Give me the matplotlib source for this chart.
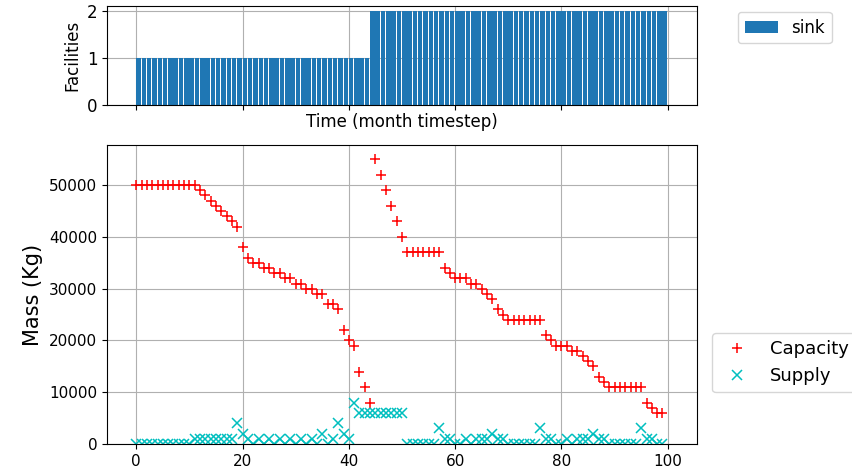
import matplotlib
matplotlib.use("Agg")
import matplotlib.pyplot as plt
import numpy as np

time = np.arange(100)

facilities = [1] * 44 + [2] * 56

capacity = ([50000] * 12
            + [49000, 48000, 47000, 46000, 45000, 44000, 43000, 42000]
            + [38000, 36000]
            + [35000, 35000, 34000, 34000, 33000, 33000, 32000, 32000,
               31000, 31000, 30000, 30000, 29000, 29000]
            + [27000, 27000, 26000, 22000, 20000, 19000, 14000, 11000, 8000]
            + [55000, 52000, 49000, 46000, 43000, 40000]
            + [37000] * 7
            + [34000, 33000, 32000, 32000, 32000, 31000, 31000, 30000,
               29000, 28000, 26000, 25000]
            + [24000] * 7
            + [21000, 20000, 19000, 19000, 19000, 18000, 18000, 17000,
               16000, 15000, 13000, 12000]
            + [11000] * 7
            + [8000, 7000, 6000, 6000])

supply = ([0] * 11
          + [1000] * 8
          + [4000, 2000]
          + [1000, 0] * 7
          + [2000, 0, 1000, 4000, 2000, 1000, 8000]
          + [6000] * 9
          + [0] * 6
          + [3000, 1000, 1000, 0, 0, 1000, 0, 1000, 1000, 1000, 2000, 1000, 1000]
          + [0] * 6
          + [3000, 1000, 1000, 0, 0, 1000, 0, 1000, 1000, 1000, 2000, 1000, 1000]
          + [0] * 6
          + [3000, 1000, 1000, 0, 0])

fig = plt.figure(figsize=(8.52, 4.72), dpi=100)
ax1 = fig.add_axes([0.1256, 0.7775, 0.6925, 0.2097])
ax2 = fig.add_axes([0.1256, 0.0593, 0.6925, 0.6335])

# top: number of facilities
ax1.bar(time, facilities, width=0.85, align='edge', color='#1f77b4', label='sink', zorder=2)
ax1.set_xlim(-5.5, 105.5)
ax1.set_ylim(0, 2.1)
ax1.set_yticks([0, 1, 2])
ax1.set_xticks([0, 20, 40, 60, 80, 100])
ax1.tick_params(labelbottom=False, labelsize=12)
ax1.set_xlabel('Time (month timestep)', fontsize=12, labelpad=2)
ax1.set_ylabel('Facilities', fontsize=12)
ax1.grid(True, zorder=0)
ax1.set_axisbelow(True)
ax1.legend(loc='upper left', bbox_to_anchor=(738 / 852, 1 - 12 / 472),
           bbox_transform=fig.transFigure, fontsize=12, borderaxespad=0)

# bottom: capacity and supply
ax2.plot(time, capacity, 'r+', markersize=7.5, markeredgewidth=1.1, label='Capacity')
ax2.plot(time, supply, 'cx', markersize=7.5, markeredgewidth=1.1, label='Supply')
ax2.set_xlim(-5.5, 105.5)
ax2.set_ylim(0, 57750)
ax2.set_xticks([0, 20, 40, 60, 80, 100])
ax2.tick_params(labelsize=11)
ax2.set_ylabel('Mass (Kg)', fontsize=15)
ax2.grid(True)
ax2.legend(loc='upper left', bbox_to_anchor=(712 / 852, 1 - 333 / 472),
           bbox_transform=fig.transFigure, fontsize=13, borderaxespad=0)

fig.savefig('out.png', dpi=100)
